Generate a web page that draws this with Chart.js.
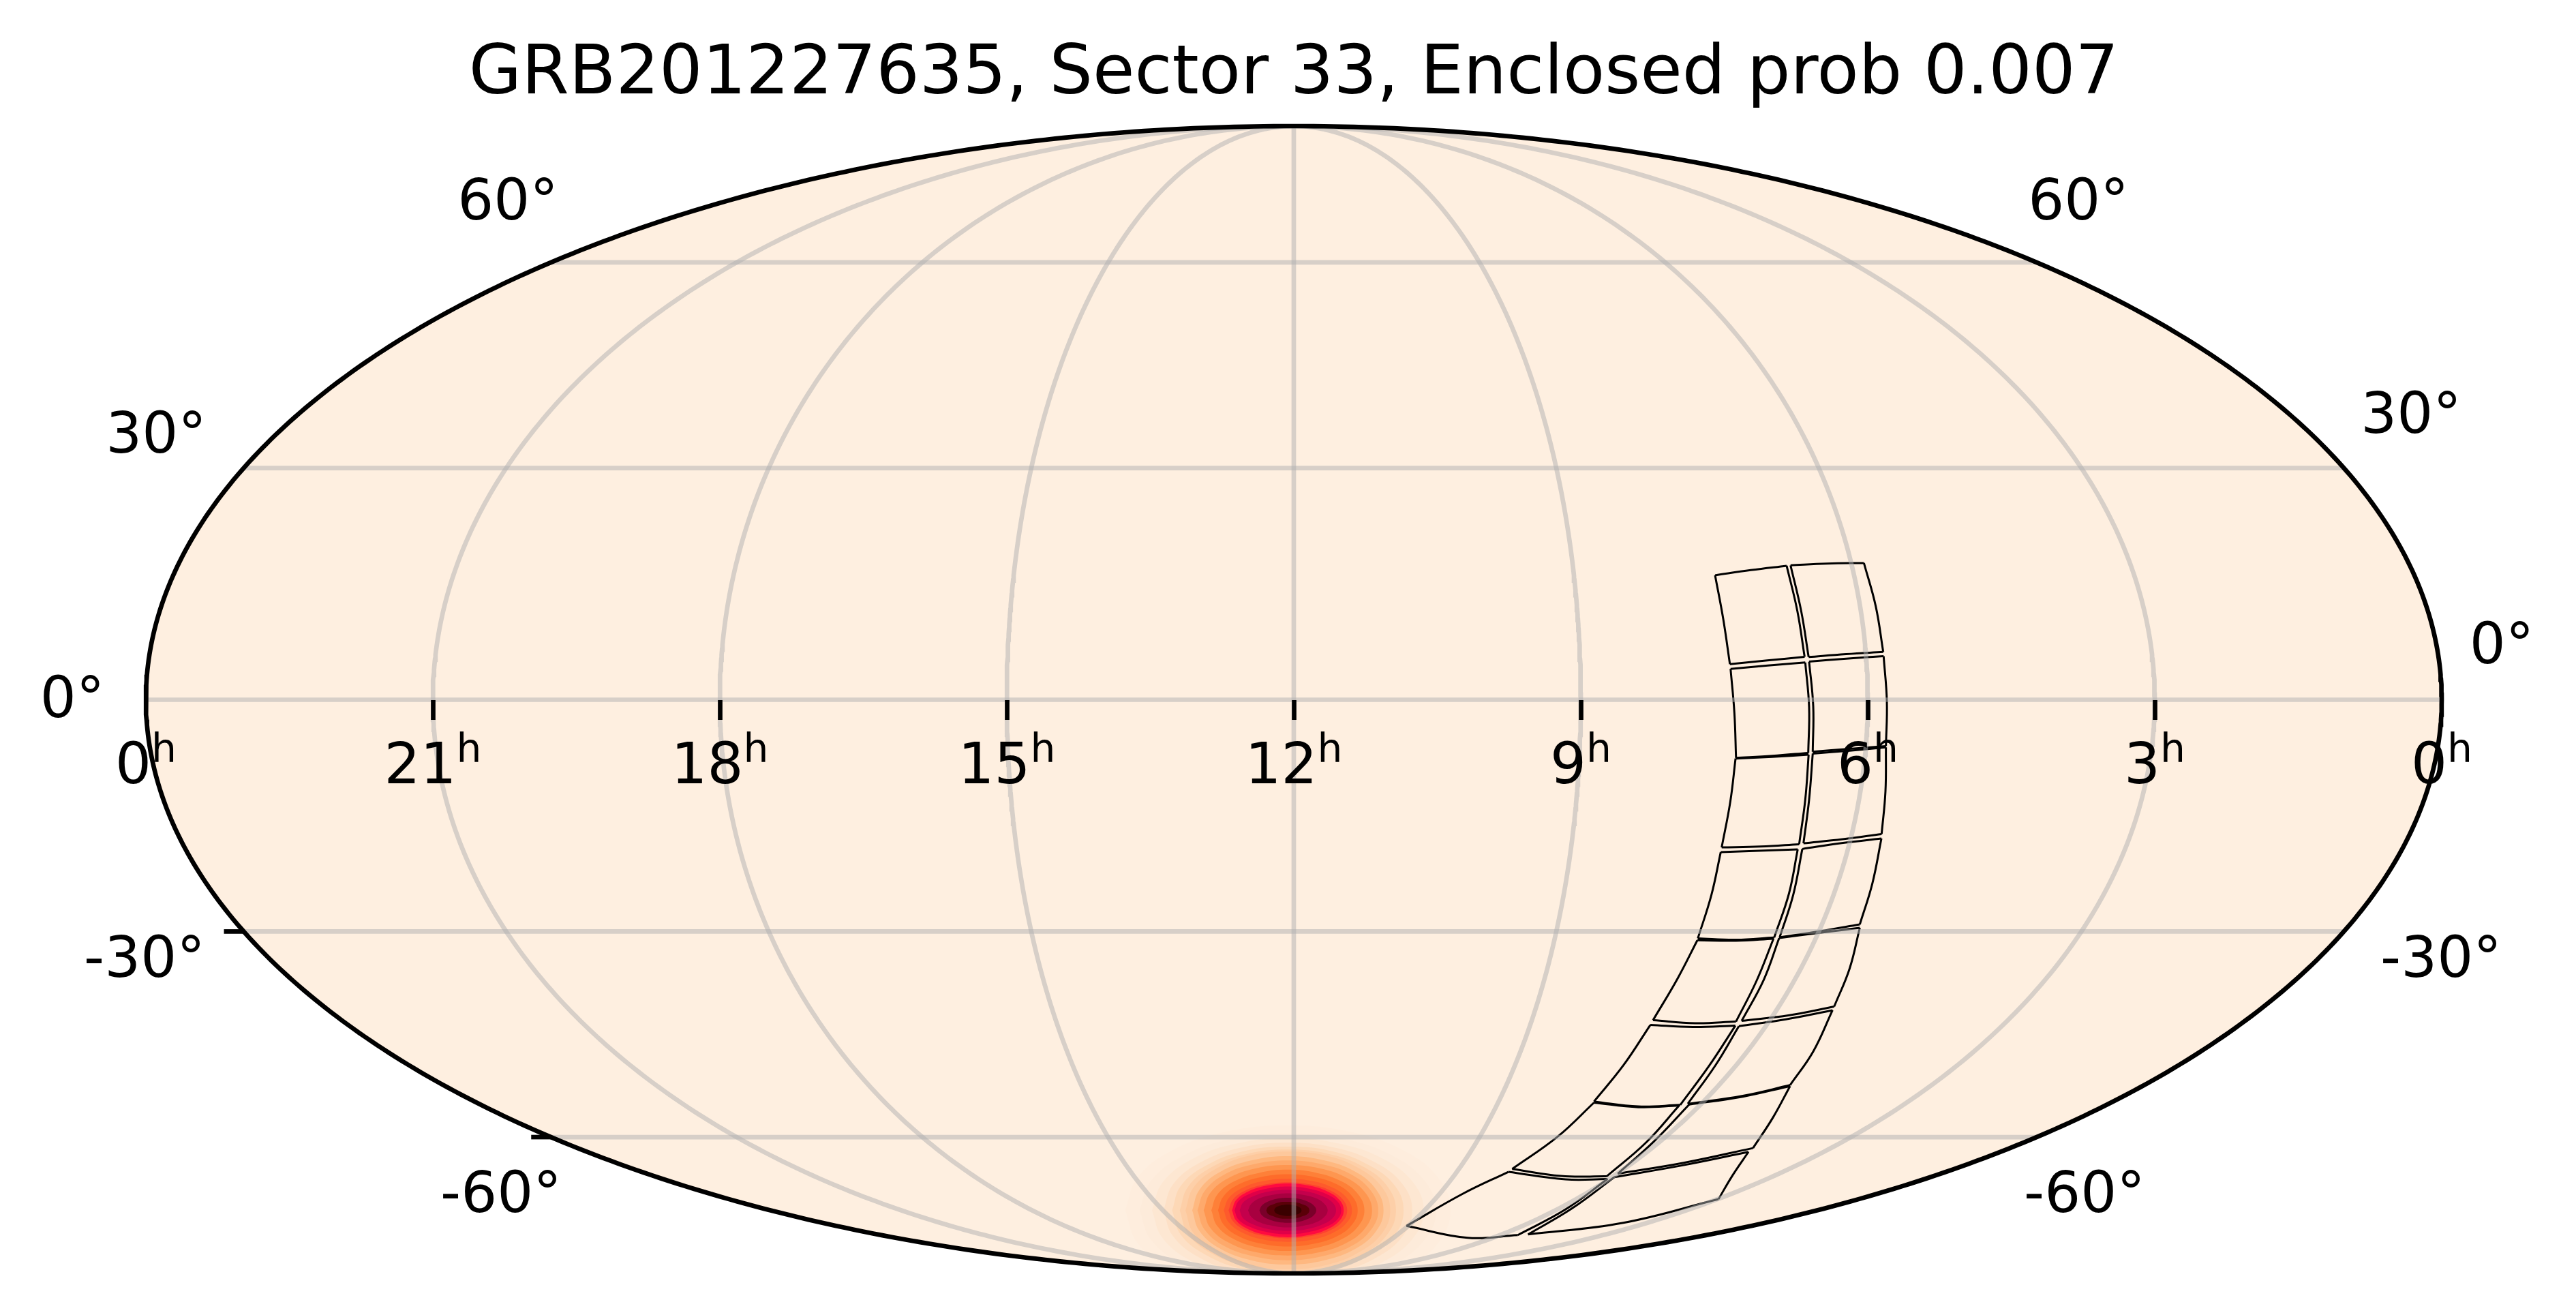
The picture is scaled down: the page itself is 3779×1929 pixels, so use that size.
<!DOCTYPE html>
<html>
<head>
<meta charset="utf-8">
<title>GRB201227635</title>
<script src="https://cdn.jsdelivr.net/npm/chart.js@4"></script>
<style>
    html, body { margin: 0; padding: 0; background: #ffffff; }
    canvas { display: block; }
</style>
</head>
<body>
<canvas id="skyMap" width="3779" height="1929" style="width:3779px;height:1929px"></canvas>
<script>
const titleText = "GRB201227635, Sector 33, Enclosed prob 0.007";
const raTicks = [24, 21, 18, 15, 12, 9, 6, 3, 0];
const decTicks = [60, 30, 0, -30, -60];
const decStubTicks = [-30, -60];

// map coordinates: [hours along the equator, projected height -1..1]
// each tile: TL, top, TR, right, BR, bottom, BL, left
const tileOutlines = [
    [[7.596,.2170],[7.223,.2260],[6.848,.2336],[6.736,.1548],[6.660,.0748],[7.050,.0685],[7.441,.0621],[7.511,.1410]],
    [[6.807,.2343],[6.427,.2375],[6.040,.2384],[5.916,.1627],[5.838,.0835],[6.226,.0796],[6.618,.0745],[6.696,.1548]],
    [[7.434,.0538],[7.045,.0597],[6.653,.0650],[6.613,-.0134],[6.622,-.0926],[6.998,-.0977],[7.377,-.1013],[7.394,-.0234]],
    [[6.613,.0665],[6.226,.0716],[5.834,.0760],[5.800,-.0036],[5.810,-.0808],[6.190,-.0855],[6.575,-.0906],[6.570,-.0115]],
    [[7.382,-.1025],[6.998,-.0994],[6.618,-.0958],[6.653,-.1738],[6.717,-.2518],[7.121,-.2557],[7.527,-.2574],[7.437,-.1778]],
    [[6.575,-.0938],[6.190,-.0887],[5.810,-.0828],[5.815,-.1600],[5.855,-.2340],[6.261,-.2431],[6.672,-.2502],[6.613,-.1738]],
    [[7.537,-.2657],[7.140,-.2633],[6.732,-.2609],[6.824,-.3381],[6.978,-.4145],[7.377,-.4184],[7.776,-.4160],[7.634,-.3400]],
    [[6.684,-.2601],[6.273,-.2498],[5.857,-.2419],[5.952,-.3203],[6.083,-.3916],[6.499,-.4034],[6.921,-.4141],[6.779,-.3400]],
    [[7.781,-.4192],[7.377,-.4201],[6.985,-.4165],[7.164,-.4905],[7.377,-.5609],[7.805,-.5638],[8.245,-.5586],[7.990,-.4866]],
    [[6.926,-.4153],[6.499,-.4062],[6.083,-.3975],[6.190,-.4688],[6.351,-.5348],[6.819,-.5499],[7.318,-.5597],[7.088,-.4885]],
    [[8.273,-.5669],[7.829,-.5704],[7.384,-.5681],[7.662,-.6390],[7.960,-.7063],[8.399,-.7090],[8.862,-.7004],[8.553,-.6369]],
    [[7.347,-.5689],[6.855,-.5570],[6.368,-.5412],[6.570,-.6132],[6.812,-.6718],[7.306,-.6904],[7.881,-.7043],[7.591,-.6369]],
    [[8.862,-.7023],[8.399,-.7102],[7.972,-.7075],[8.316,-.7716],[8.729,-.8308],[9.207,-.8302],[9.717,-.8179],[9.242,-.7616]],
    [[7.867,-.7055],[7.306,-.6918],[6.812,-.6734],[6.990,-.7280],[7.199,-.7815],[7.924,-.8072],[8.613,-.8262],[8.233,-.7696]],
    [[9.757,-.8230],[9.159,-.8361],[8.720,-.8355],[9.159,-.8884],[9.658,-.9331],[10.181,-.9379],[10.822,-.9172],[10.228,-.8607]],
    [[8.649,-.8322],[7.924,-.8112],[7.247,-.7882],[7.413,-.8290],[7.560,-.8705],[8.565,-.9121],[9.551,-.9320],[9.088,-.8863]],
];

// probability blob, read as nested contours from faint to peak
const blobCentre = [12.062, -0.890];
const blobColours = [
    "#feeddd", "#fdebda", "#fde7d2", "#fde0c6", "#fdd8b6", "#fdcfa8", "#fdc89c", "#feb880", "#fea96b",
    "#fe9650", "#fe8038", "#fe6c2a", "#fe5a2c", "#fe4030", "#ff0a40",
    "#e00048", "#c4004c", "#a80040", "#7a002a", "#5a0008", "#3a0000",
];
// one quarter of each contour, offsets from blobCentre
const blobContours = [
    [[1.70,0],[1.571,.057],[1.202,.105],[.651,.137],[0,.148]],
    [[1.55,0],[1.432,.051],[1.096,.095],[.594,.124],[0,.134]],
    [[1.42,0],[1.312,.048],[1.004,.089],[.544,.116],[0,.126]],
    [[1.30,0],[1.201,.045],[.919,.083],[.498,.109],[0,.118]],
    [[1.21,0],[1.118,.043],[.855,.078],[.463,.103],[0,.111]],
    [[1.13,0],[1.044,.041],[.799,.075],[.433,.098],[0,.106]],
    [[1.07,0],[.989,.039],[.756,.072],[.41,.095],[0,.1025]],
    [[1,0],[.924,.036],[.707,.067],[.383,.087],[0,.0945]],
    [[.945,0],[.873,.033],[.668,.062],[.362,.08],[0,.087]],
    [[.88,0],[.813,.03],[.622,.056],[.337,.073],[0,.0788]],
    [[.8,0],[.739,.027],[.566,.05],[.306,.065],[0,.0708]],
    [[.73,0],[.675,.024],[.516,.045],[.28,.058],[0,.063]],
    [[.67,0],[.619,.021],[.474,.039],[.257,.051],[0,.055]],
    [[.62,0],[.573,.019],[.438,.035],[.237,.045],[0,.049]],
    [[.584,0],[.54,.018],[.413,.033],[.224,.043],[0,.047]],
    [[.558,0],[.516,.016],[.395,.029],[.214,.038],[0,.0416]],
    [[.504,0],[.466,.014],[.356,.025],[.193,.033],[0,.0356]],
    [[.416,0],[.384,.011],[.294,.021],[.159,.027],[0,.0297]],
    [[.297,0],[.274,.008],[.21,.015],[.114,.02],[0,.0218]],
    [[.225,0],[.208,.006],[.159,.01],[.086,.014],[0,.0147]],
    [[.143,0],[.132,.004],[.101,.007],[.055,.009],[0,.0099]],
];

// where the declination labels sit on the page (matplotlib left them off the axis)
const decLabelSpots = [
    { text: "60°", x: 745, y: 300 },
    { text: "30°", x: 229, y: 642 },
    { text: "0°", x: 106, y: 1030 },
    { text: "-30°", x: 212, y: 1411 },
    { text: "-60°", x: 735, y: 1756 },
    { text: "60°", x: 3049, y: 300 },
    { text: "30°", x: 3537, y: 613 },
    { text: "0°", x: 3670, y: 951 },
    { text: "-30°", x: 3581, y: 1411 },
    { text: "-60°", x: 3058, y: 1756 },
];

const mapBackground = "#feefe0";
const gridColour = "rgba(176,176,176,0.5)";
const tickFontSize = 83.33;
const frameWidth = 6.67;
const hourLabelShift = -18.5;

// Mollweide: auxiliary angle for a latitude
function auxAngle(decDeg) {
    const target = Math.PI * Math.sin(decDeg * Math.PI / 180);
    let theta = decDeg * Math.PI / 360;
    if (Math.abs(decDeg) === 90) return Math.sign(decDeg) * Math.PI / 2;
    for (let i = 0; i < 30; i++) {
        theta -= (2 * theta + Math.sin(2 * theta) - target) / (2 + 2 * Math.cos(2 * theta));
    }
    return theta;
}

function mapHeight(decDeg) {
    return Math.sin(auxAngle(decDeg));
}

function meridianPoints(hour) {
    const points = [];
    for (let i = -180; i <= 180; i++) {
        const theta = i / 180 * Math.PI / 2;
        points.push({ x: 12 + (hour - 12) * Math.cos(theta), y: Math.sin(theta) });
    }
    return points;
}

function parallelPoints(decDeg) {
    const y = mapHeight(decDeg);
    const half = 12 * Math.sqrt(1 - y * y);
    return [{ x: 12 - half, y }, { x: 12 + half, y }];
}

function framePoints() {
    return meridianPoints(0).concat(meridianPoints(24).reverse());
}

function contourPoints(quarter) {
    const [cx, cy] = blobCentre;
    const back = quarter.slice().reverse();
    const pts = quarter
        .concat(back.slice(1).map(([dx, dy]) => [-dx, dy]))
        .concat(quarter.slice(1).map(([dx, dy]) => [-dx, -dy]))
        .concat(back.slice(1).map(([dx, dy]) => [dx, -dy]));
    return pts.map(([dx, dy]) => ({ x: cx + dx, y: cy + dy }));
}

function lineDataset(label, data, colour, width, order, extra) {
    return Object.assign({
        label,
        data,
        showLine: true,
        borderColor: colour,
        borderWidth: width,
        pointRadius: 0,
        pointHitRadius: 0,
        tension: 0,
        order,
    }, extra || {});
}

function buildDatasets() {
    const sets = [];
    sets.push(lineDataset("disc", framePoints(), "transparent", 0, 50, { solidFill: mapBackground }));

    blobContours.forEach((quarter, i) => {
        sets.push(lineDataset("blob " + i, contourPoints(quarter), "transparent", 0, 40 - i / 100, {
            solidFill: blobColours[i],
            tension: 0.4,
            clipToDisc: true,
        }));
    });

    tileOutlines.forEach((tile, t) => {
        const edges = [[0, 1, 2], [2, 3, 4], [4, 5, 6], [6, 7, 0]];
        edges.forEach((edge) => {
            const data = edge.map((k) => ({ x: tile[k][0], y: tile[k][1] }));
            sets.push(lineDataset("tile " + t, data, "#000000", 3, 30, { tension: 0.4 }));
        });
    });

    raTicks.slice(1, -1).forEach((hour) => {
        sets.push(lineDataset("meridian " + hour, meridianPoints(hour), gridColour, frameWidth, 20));
    });
    decTicks.forEach((dec) => {
        sets.push(lineDataset("parallel " + dec, parallelPoints(dec), gridColour, frameWidth, 20));
    });

    sets.push(lineDataset("frame", framePoints(), "#000000", frameWidth, 10, { clip: false }));
    return sets;
}

// the line element gives the path, so the fills follow the scales
const solidFillPlugin = {
    id: "solidFill",
    beforeDatasetDraw(chart, args) {
        const dataset = chart.data.datasets[args.index];
        if (!dataset.solidFill) return;
        const ctx = chart.ctx;
        ctx.save();
        if (dataset.clipToDisc) {
            const disc = chart.getDatasetMeta(0).dataset;
            ctx.beginPath();
            disc.path(ctx);
            ctx.closePath();
            ctx.clip();
        }
        args.meta.dataset.updateControlPoints(chart.chartArea);
        ctx.beginPath();
        args.meta.dataset.path(ctx);
        ctx.closePath();
        ctx.fillStyle = dataset.solidFill;
        ctx.fill();
        ctx.restore();
    },
};

const axisTextPlugin = {
    id: "axisText",
    afterDraw(chart) {
        const ctx = chart.ctx;
        const { x: xScale, y: yScale } = chart.scales;
        ctx.save();
        ctx.fillStyle = "#000000";
        ctx.font = tickFontSize + 'px "DejaVu Sans"';
        ctx.textAlign = "center";
        ctx.textBaseline = "middle";
        decLabelSpots.forEach((spot) => ctx.fillText(spot.text, spot.x, spot.y));

        // superscript h of the hour labels
        const hourBaseline = yScale.getPixelForValue(0) + 91;
        const digitWidths = raTicks.map((hour) => ctx.measureText(String(hour % 24)).width);
        ctx.font = tickFontSize * 0.7 + 'px "DejaVu Sans"';
        ctx.textAlign = "left";
        ctx.textBaseline = "alphabetic";
        raTicks.forEach((hour, i) => {
            const left = xScale.getPixelForValue(hour) + hourLabelShift + digitWidths[i] / 2;
            ctx.fillText("h", left, hourBaseline);
        });

        ctx.strokeStyle = "#000000";
        ctx.lineWidth = frameWidth;
        decStubTicks.forEach((dec) => {
            const edge = parallelPoints(dec)[0];
            const px = xScale.getPixelForValue(24 - edge.x);
            const py = yScale.getPixelForValue(edge.y);
            ctx.beginPath();
            ctx.moveTo(px, py);
            ctx.lineTo(px - 29, py);
            ctx.stroke();
        });
        ctx.restore();
    },
};

Chart.defaults.font.family = '"DejaVu Sans"';
Chart.defaults.color = "#000000";

new Chart(document.getElementById("skyMap"), {
    type: "scatter",
    data: { datasets: buildDatasets() },
    plugins: [solidFillPlugin, axisTextPlugin],
    options: {
        responsive: false,
        animation: false,
        devicePixelRatio: 1,
        events: [],
        layout: { padding: { left: 214, right: 197, top: 0, bottom: 61 } },
        plugins: {
            legend: { display: false },
            tooltip: { enabled: false },
            title: {
                display: true,
                text: titleText,
                color: "#000000",
                font: { size: 100, weight: "normal" },
                padding: { top: 51, bottom: 14 },
            },
        },
        scales: {
            x: {
                type: "linear",
                min: 0,
                max: 24,
                reverse: true,
                position: { y: 0 },
                afterBuildTicks(scale) {
                    scale.ticks = raTicks.map((value) => ({ value }));
                },
                border: { display: false },
                grid: {
                    z: 1,
                    drawOnChartArea: false,
                    drawTicks: true,
                    tickLength: 29,
                    tickWidth: frameWidth,
                    tickColor: (c) => (c.tick && c.tick.value % 24 === 0 ? "transparent" : "#000000"),
                },
                ticks: {
                    z: 1,
                    autoSkip: false,
                    maxRotation: 0,
                    minRotation: 0,
                    padding: 22,
                    labelOffset: hourLabelShift,
                    font: { size: tickFontSize },
                    callback: (value) => String(value % 24),
                },
            },
            y: {
                type: "linear",
                min: -1,
                max: 1,
                display: false,
            },
        },
    },
});
</script>
</body>
</html>
